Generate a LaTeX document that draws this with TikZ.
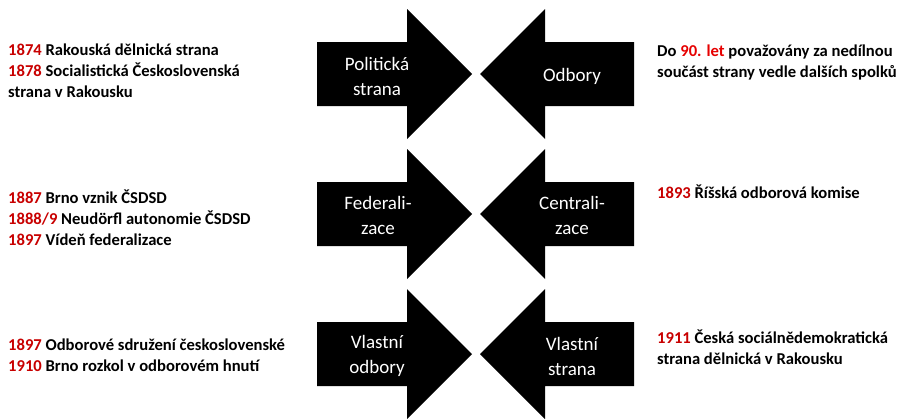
\documentclass[tikz,border=0pt]{standalone}
\usepackage{fontspec}
\setmainfont{Carlito}
\definecolor{yr}{HTML}{C80000}
\definecolor{yr2}{HTML}{E60000}
\begin{document}
\begin{tikzpicture}[x=1pt,y=-1pt,
  arr/.style={fill=black,draw=none},
  lbl/.style={text=white,align=center,font=\fontsize{19}{25}\selectfont,inner sep=0pt},
  info/.style={anchor=west,align=left,inner sep=0pt,font=\bfseries\fontsize{16.6}{21}\selectfont}]
\useasboundingbox (0,0) rectangle (899,418);
\foreach \r/\c in {0/74,1/214,2/354}{
  \fill[arr] (317,\c-32) -- (407,\c-32) -- (407,\c-65) -- (472,\c) -- (407,\c+65) -- (407,\c+32) -- (317,\c+32) -- cycle;
  \fill[arr] (634,\c-32) -- (545,\c-32) -- (545,\c-65) -- (480,\c) -- (545,\c+65) -- (545,\c+32) -- (634,\c+32) -- cycle;
}
\node[lbl] (l1) at (377,76) {Politická\\strana};
\node[lbl] (r1) at (572,76) {Odbory};
\node[lbl] (l2) at (378,215) {Federali-\\zace};
\node[lbl] (r2) at (572,215) {Centrali-\\zace};
\node[lbl] (l3) at (377,356) {Vlastní\\odbory};
\node[lbl] (r3) at (572,356) {Vlastní\\strana};
\node[info] (t1) at (8,71) {\textcolor{yr}{1874} Rakouská dělnická strana\\\textcolor{yr}{1878} Socialistická Československá\\strana v Rakousku};
\node[info] (t2) at (657,62.5) {Do \textcolor{yr2}{90. let} považovány za nedílnou\\součást strany vedle dalších spolků};
\node[info] (t3) at (8,218) {\textcolor{yr}{1887} Brno vznik ČSDSD\\\textcolor{yr}{1888/9} Neudörfl autonomie ČSDSD\\\textcolor{yr}{1897} Vídeň federalizace};
\node[info] (t4) at (657,192) {\textcolor{yr}{1893} Říšská odborová komise};
\node[info] (t5) at (8,355) {\textcolor{yr}{1897} Odborové sdružení československé\\\textcolor{yr}{1910} Brno rozkol v odborovém hnutí};
\node[info] (t6) at (657,347.5) {\textcolor{yr}{1911} Česká sociálnědemokratická\\strana dělnická v Rakousku};
\end{tikzpicture}
\end{document}
